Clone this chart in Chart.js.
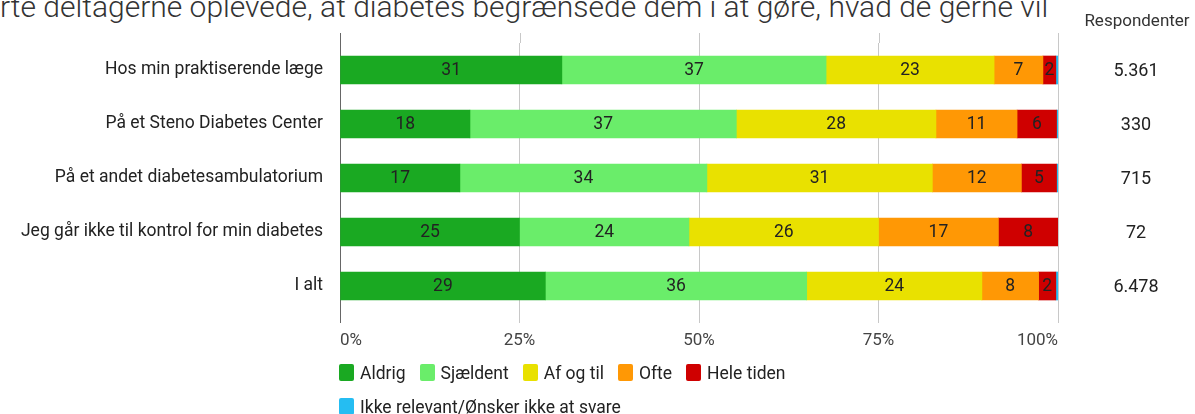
<!DOCTYPE html>
<html lang="da">
<head>
<meta charset="utf-8">
<script src="https://cdn.jsdelivr.net/npm/chart.js@4.4.1/dist/chart.umd.min.js"></script>
<style>
  html, body { margin: 0; padding: 0; background: #fff; }
  body { width: 1195px; height: 414px; position: relative; overflow: hidden; font-family: Roboto, "Noto Sans", sans-serif; }
  #titel { position: absolute; left: 0; top: -10px; font-size: 30px; line-height: 34px; font-weight: 300; color: #333; white-space: nowrap; }
  #wrap { position: absolute; left: 0; top: 0; width: 1195px; height: 414px; }
  #legend { position: absolute; left: 339px; top: 362px; width: 560px; display: flex; flex-wrap: wrap; row-gap: 13px; font-size: 17.5px; color: #222; }
  .item { display: flex; align-items: center; margin-right: 14px; height: 21px; }
  .sw { width: 15px; height: 17px; border-radius: 2px; margin-right: 6px; }
</style>
</head>
<body>
<div id="titel">rte deltagerne oplevede, at diabetes begrænsede dem i at gøre, hvad de gerne vil</div>
<div id="wrap"><canvas id="chart" width="1195" height="414"></canvas></div>
<div id="legend"></div>
<script>
// ---- data (procent) ----
const kategorier = [
    'Hos min praktiserende læge',
    'På et Steno Diabetes Center',
    'På et andet diabetesambulatorium',
    'Jeg går ikke til kontrol for min diabetes',
    'I alt'
];
const aldrig       = [30.9, 18.1, 16.7, 25.0, 28.6];
const sjaeldent    = [36.8, 37.1, 34.4, 23.6, 36.4];
const afOgTil      = [23.4, 27.8, 31.4, 26.4, 24.4];
const ofte         = [6.8, 11.3, 12.4, 16.7, 7.9];
const heleTiden    = [1.8, 5.5, 4.9, 8.3, 2.4];
const ikkeRelevant = [0.3, 0.2, 0.2, 0.0, 0.3];
const respondenter = ['5.361', '330', '715', '72', '6.478'];
const xTicks = [0, 25, 50, 75, 100];

const serier = [
    { label: 'Aldrig', data: aldrig, color: '#1aa922' },
    { label: 'Sjældent', data: sjaeldent, color: '#6aed6a' },
    { label: 'Af og til', data: afOgTil, color: '#e9e100' },
    { label: 'Ofte', data: ofte, color: '#ff9805' },
    { label: 'Hele tiden', data: heleTiden, color: '#cf0000' },
    { label: 'Ikke relevant/Ønsker ikke at svare', data: ikkeRelevant, color: '#25bdf2' }
];

const FONT = 'Roboto, "Noto Sans", sans-serif';

// tal inde i søjlerne
const vaerdiLabels = {
    id: 'vaerdiLabels',
    afterDatasetsDraw(chart) {
        const c = chart.ctx;
        c.save();
        c.font = '17.5px ' + FONT;
        c.fillStyle = '#222';
        c.textAlign = 'center';
        c.textBaseline = 'middle';
        chart.data.datasets.forEach((ds, i) => {
            if (i === chart.data.datasets.length - 1) return; // ikke relevant: ingen tal
            chart.getDatasetMeta(i).data.forEach((bar, j) => {
                const p = bar.getProps(['x', 'base', 'y'], true);
                c.fillText(Math.round(ds.data[j]), (p.x + p.base) / 2, p.y + 1);
            });
        });
        c.restore();
    }
};

// respondent-kolonne til højre + gitterlinjer lidt over plotområdet
const ekstra = {
    id: 'ekstra',
    beforeDatasetsDraw(chart) {
        const c = chart.ctx;
        const x = chart.scales.x;
        const top = chart.chartArea.top;
        c.save();
        xTicks.forEach((t, i) => {
            const px = Math.round(x.getPixelForValue(t)) + 0.5;
            c.strokeStyle = i === 0 ? '#666' : '#c8c8c8';
            c.lineWidth = 1;
            c.beginPath();
            c.moveTo(px, top - 10);
            c.lineTo(px, top);
            c.stroke();
        });
        c.restore();
    },
    afterDraw(chart) {
        const c = chart.ctx;
        const y = chart.scales.y;
        c.save();
        c.textAlign = 'center';
        c.textBaseline = 'middle';
        c.fillStyle = '#333';
        c.font = '17px ' + FONT;
        c.fillText('Respondenter', 1137, 22);
        c.font = '18px ' + FONT;
        c.fillStyle = '#222';
        respondenter.forEach((r, i) => {
            c.fillText(r, 1136, y.getPixelForValue(i) + 1);
        });
        c.restore();
    }
};

const ctx = document.getElementById('chart').getContext('2d');

const chart = new Chart(ctx, {
    type: 'bar',
    data: {
        labels: kategorier,
        datasets: serier.map(s => ({
            label: s.label,
            data: s.data,
            backgroundColor: s.color,
            borderWidth: 0,
            barThickness: 28
        }))
    },
    options: {
        indexAxis: 'y',
        responsive: false,
        animation: false,
        layout: { padding: { top: 43, right: 137, bottom: 61, left: 0 } },
        plugins: {
            legend: { display: false },
            tooltip: { enabled: false }
        },
        scales: {
            x: {
                stacked: true,
                min: 0,
                max: 100,
                afterBuildTicks: scale => { scale.ticks = xTicks.map(v => ({ value: v })); },
                afterFit: scale => { scale.height = 40; },
                grid: {
                    color: c => c.index === 0 ? '#666' : '#c8c8c8',
                    tickLength: 10,
                    drawTicks: true
                },
                border: { display: false },
                ticks: {
                    align: 'inner',
                    padding: 8,
                    color: '#444',
                    font: { family: FONT, size: 17 },
                    callback: v => v + '%'
                }
            },
            y: {
                stacked: true,
                afterFit: scale => { scale.width = 340; },
                grid: { display: false, drawTicks: false },
                border: { display: false },
                ticks: {
                    padding: 17,
                    color: '#222',
                    font: { family: FONT, size: 17.5 }
                }
            }
        }
    },
    plugins: [vaerdiLabels, ekstra]
});

// legende
const legend = document.getElementById('legend');
serier.forEach(s => {
    const it = document.createElement('div');
    it.className = 'item';
    it.innerHTML = '<span class="sw" style="background:' + s.color + '"></span>' + s.label;
    legend.appendChild(it);
});
</script>
</body>
</html>
